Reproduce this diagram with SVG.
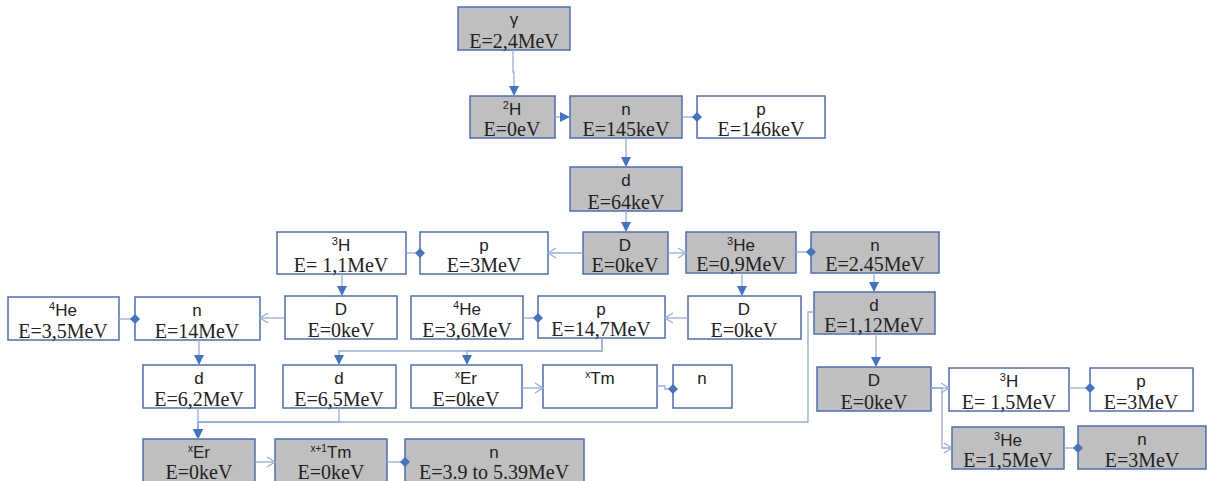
<svg xmlns="http://www.w3.org/2000/svg" width="1207" height="481" viewBox="0 0 1207 481">
<style>
.b{stroke:#4A6FB6;stroke-width:1.5}
.g{fill:#BFBFBF}
.w{fill:#FFFFFF}
.t1{font-family:"Liberation Sans",Arial,sans-serif;font-size:17px;fill:#222;text-anchor:middle}
.t2{font-family:"Liberation Serif","Times New Roman",serif;font-size:20px;fill:#222;text-anchor:middle}
.c{fill:none;stroke:#94AEDD;stroke-width:1.3}
</style>
<defs>
<marker id="tri" markerUnits="userSpaceOnUse" markerWidth="10" markerHeight="10" viewBox="0 0 10 10" refX="10" refY="5" orient="auto"><path d="M0,0 L10,5 L0,10 z" fill="#4472C4"/></marker>
<marker id="open" markerUnits="userSpaceOnUse" markerWidth="10" markerHeight="12" viewBox="-1 -1 10 12" refX="8" refY="5" orient="auto" overflow="visible"><path d="M0,0 L8,5 L0,10" fill="none" stroke="#94AEDD" stroke-width="1.2"/></marker>
<marker id="dia" markerUnits="userSpaceOnUse" markerWidth="10" markerHeight="10" viewBox="0 0 10 10" refX="5" refY="5" orient="auto"><path d="M0,5 L5,0 L10,5 L5,10 z" fill="#4472C4"/></marker>
</defs>
<g id="gamma"><rect class="b g" x="458" y="7" width="112" height="43"/><text class="t1" x="514" y="25">γ</text><text class="t2" x="514" y="48">E=2,4MeV</text></g>
<g id="h2"><rect class="b g" x="470" y="96" width="85" height="42"/><text class="t1" x="512" y="115"><tspan font-size="11" dy="-6">2</tspan><tspan dy="6">H</tspan></text><text class="t2" x="512" y="136">E=0eV</text></g>
<g id="n1"><rect class="b g" x="570" y="96" width="112" height="42"/><text class="t1" x="626" y="115">n</text><text class="t2" x="626" y="136">E=145keV</text></g>
<g id="p1"><rect class="b w" x="697" y="96" width="128" height="42"/><text class="t1" x="761" y="115">p</text><text class="t2" x="761" y="136">E=146keV</text></g>
<g id="d1"><rect class="b g" x="570" y="167" width="112" height="44"/><text class="t1" x="626" y="186">d</text><text class="t2" x="626" y="209">E=64keV</text></g>
<g id="D1"><rect class="b g" x="583" y="232" width="85" height="42"/><text class="t1" x="625" y="251">D</text><text class="t2" x="625" y="272">E=0keV</text></g>
<g id="he3a"><rect class="b g" x="686" y="232" width="110" height="41"/><text class="t1" x="741" y="251"><tspan font-size="11" dy="-6">3</tspan><tspan dy="6">He</tspan></text><text class="t2" x="741" y="271">E=0,9MeV</text></g>
<g id="n2"><rect class="b g" x="811" y="232" width="128" height="41"/><text class="t1" x="875" y="251">n</text><text class="t2" x="875" y="271">E=2.45MeV</text></g>
<g id="p2"><rect class="b w" x="420" y="232" width="128" height="42"/><text class="t1" x="484" y="251">p</text><text class="t2" x="484" y="272">E=3MeV</text></g>
<g id="h3a"><rect class="b w" x="277" y="232" width="129" height="42"/><text class="t1" x="341" y="251"><tspan font-size="11" dy="-6">3</tspan><tspan dy="6">H</tspan></text><text class="t2" x="341" y="272">E= 1,1MeV</text></g>
<g id="D2"><rect class="b w" x="285" y="296" width="112" height="43"/><text class="t1" x="341" y="315">D</text><text class="t2" x="341" y="337">E=0keV</text></g>
<g id="he4a"><rect class="b w" x="411" y="296" width="112" height="43"/><text class="t1" x="467" y="315"><tspan font-size="11" dy="-6">4</tspan><tspan dy="6">He</tspan></text><text class="t2" x="467" y="337">E=3,6MeV</text></g>
<g id="p3"><rect class="b w" x="538" y="296" width="127" height="42"/><text class="t1" x="601" y="315">p</text><text class="t2" x="601" y="336">E=14,7MeV</text></g>
<g id="D3"><rect class="b w" x="688" y="296" width="113" height="43"/><text class="t1" x="744" y="315">D</text><text class="t2" x="744" y="337">E=0keV</text></g>
<g id="d2"><rect class="b g" x="814" y="292" width="121" height="42"/><text class="t1" x="874" y="311">d</text><text class="t2" x="874" y="332">E=1,12MeV</text></g>
<g id="he4b"><rect class="b w" x="8" y="297" width="111" height="43"/><text class="t1" x="63" y="316"><tspan font-size="11" dy="-6">4</tspan><tspan dy="6">He</tspan></text><text class="t2" x="63" y="338">E=3,5MeV</text></g>
<g id="n3"><rect class="b w" x="135" y="297" width="125" height="43"/><text class="t1" x="197" y="316">n</text><text class="t2" x="197" y="338">E=14MeV</text></g>
<g id="d3"><rect class="b w" x="143" y="365" width="112" height="43"/><text class="t1" x="199" y="384">d</text><text class="t2" x="199" y="406">E=6,2MeV</text></g>
<g id="d4"><rect class="b w" x="283" y="365" width="113" height="43"/><text class="t1" x="339" y="384">d</text><text class="t2" x="339" y="406">E=6,5MeV</text></g>
<g id="er1"><rect class="b w" x="411" y="365" width="111" height="43"/><text class="t1" x="466" y="384"><tspan font-size="10" dy="-6">x</tspan><tspan dy="6">Er</tspan></text><text class="t2" x="466" y="406">E=0keV</text></g>
<g id="tm1"><rect class="b w" x="543" y="365" width="114" height="43"/><text class="t1" x="600" y="384"><tspan font-size="10" dy="-6">x</tspan><tspan dy="6">Tm</tspan></text></g>
<g id="n4"><rect class="b w" x="673" y="365" width="59" height="43"/><text class="t1" x="702" y="384">n</text></g>
<g id="D4"><rect class="b g" x="817" y="367" width="114" height="44"/><text class="t1" x="874" y="386">D</text><text class="t2" x="874" y="409">E=0keV</text></g>
<g id="h3b"><rect class="b w" x="949" y="368" width="120" height="43"/><text class="t1" x="1009" y="387"><tspan font-size="11" dy="-6">3</tspan><tspan dy="6">H</tspan></text><text class="t2" x="1009" y="409">E= 1,5MeV</text></g>
<g id="p4"><rect class="b w" x="1090" y="368" width="103" height="43"/><text class="t1" x="1141" y="387">p</text><text class="t2" x="1141" y="409">E=3MeV</text></g>
<g id="he3b"><rect class="b g" x="952" y="427" width="112" height="42"/><text class="t1" x="1008" y="446"><tspan font-size="11" dy="-6">3</tspan><tspan dy="6">He</tspan></text><text class="t2" x="1008" y="467">E=1,5MeV</text></g>
<g id="n5"><rect class="b g" x="1078" y="426" width="128" height="43"/><text class="t1" x="1142" y="445">n</text><text class="t2" x="1142" y="467">E=3MeV</text></g>
<g id="er2"><rect class="b g" x="143" y="439" width="112" height="44"/><text class="t1" x="199" y="458"><tspan font-size="10" dy="-6">x</tspan><tspan dy="6">Er</tspan></text><text class="t2" x="199" y="479">E=0keV</text></g>
<g id="tm2"><rect class="b g" x="275" y="439" width="112" height="44"/><text class="t1" x="331" y="458"><tspan font-size="10" dy="-6">x+1</tspan><tspan dy="6">Tm</tspan></text><text class="t2" x="331" y="479">E=0keV</text></g>
<g id="n6"><rect class="b g" x="405" y="439" width="179" height="44"/><text class="t1" x="494" y="458">n</text><text class="t2" x="494" y="479">E=3.9 to 5.39MeV</text></g>
<g id="connectors">
<path class="c" d="M513,50 V72 H514 V96" marker-end="url(#tri)"/>
<path class="c" d="M555,117 H570" marker-end="url(#tri)"/>
<path class="c" d="M682,117 H697" marker-end="url(#dia)"/>
<path class="c" d="M626,138 V167" marker-end="url(#tri)"/>
<path class="c" d="M626,211 V232" marker-end="url(#tri)"/>
<path class="c" d="M583,253 H548" marker-end="url(#open)"/>
<path class="c" d="M668,253 H686" marker-end="url(#open)"/>
<path class="c" d="M796,252 H811" marker-end="url(#dia)"/>
<path class="c" d="M406,253 H420" marker-end="url(#dia)"/>
<path class="c" d="M342,274 V296" marker-end="url(#tri)"/>
<path class="c" d="M742,273 V296" marker-end="url(#tri)"/>
<path class="c" d="M874,273 V292" marker-end="url(#tri)"/>
<path class="c" d="M285,318 H260" marker-end="url(#open)"/>
<path class="c" d="M119,319 H135" marker-end="url(#dia)"/>
<path class="c" d="M523,318 H538" marker-end="url(#dia)"/>
<path class="c" d="M688,318 H665" marker-end="url(#open)"/>
<path class="c" d="M876,334 V367" marker-end="url(#tri)"/>
<path class="c" d="M199,340 V365" marker-end="url(#tri)"/>
<path class="c" d="M602,338 V351 H339 V365" marker-end="url(#tri)"/>
<path class="c" d="M602,338 V351 H467 V365" marker-end="url(#tri)"/>
<path class="c" d="M522,388 H543" marker-end="url(#open)"/>
<path class="c" d="M657,386 H665 V389 H673" marker-end="url(#dia)"/>
<path class="c" d="M931,388 H949" marker-end="url(#open)"/>
<path class="c" d="M931,388 H942 V448 H952" marker-end="url(#open)"/>
<path class="c" d="M1069,388 H1090" marker-end="url(#dia)"/>
<path class="c" d="M1064,448 H1078" marker-end="url(#dia)"/>
<path class="c" d="M198,408 V439" marker-end="url(#tri)"/>
<path class="c" d="M339,408 V422 H198 V439" marker-end="url(#tri)"/>
<path class="c" d="M814,312 H808 V422 H198 V439" marker-end="url(#tri)"/>
<path class="c" d="M255,462 H275" marker-end="url(#open)"/>
<path class="c" d="M387,462 H405" marker-end="url(#dia)"/>
</g>
</svg>
